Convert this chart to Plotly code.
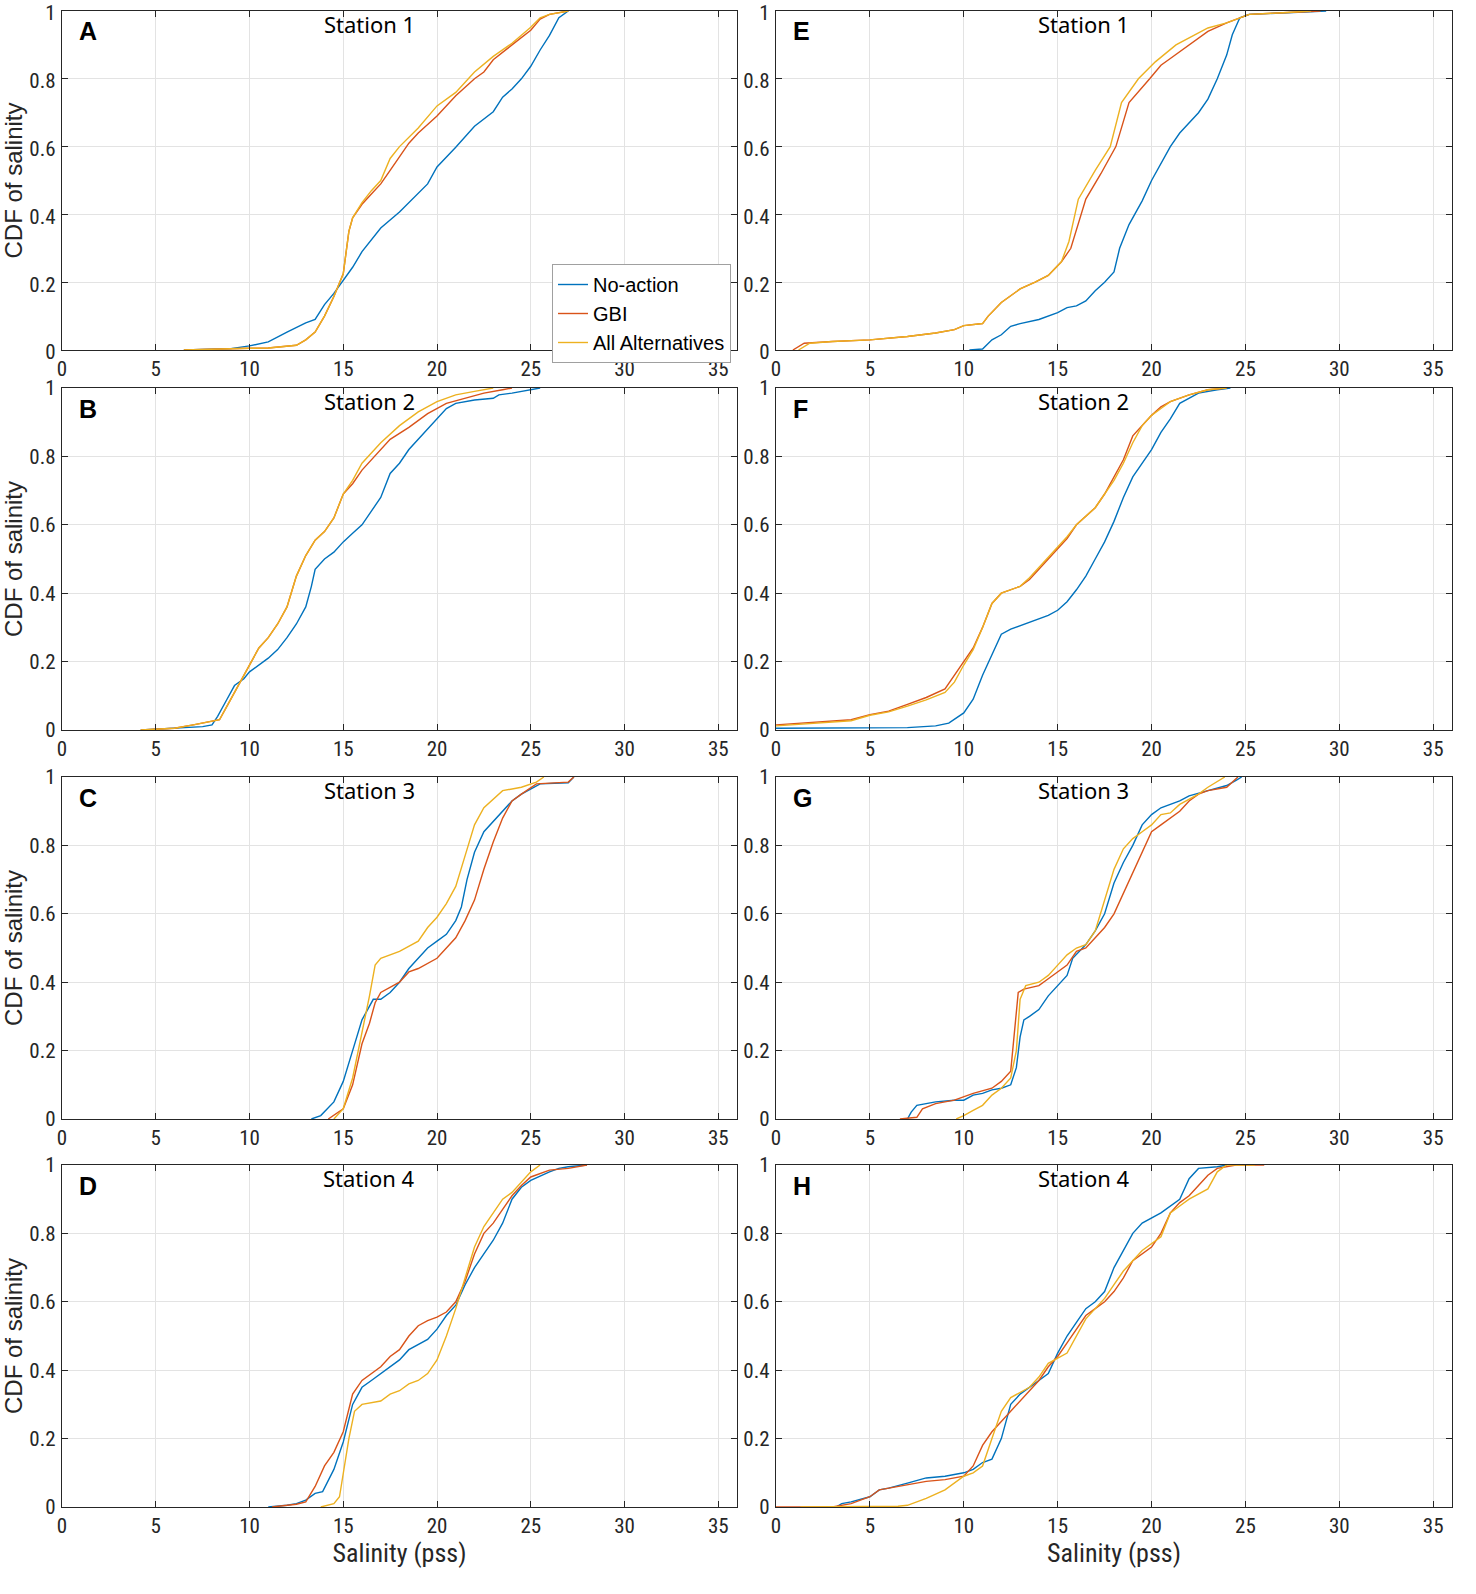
import plotly.graph_objects as go

# salinity (pss), CDF pairs, per panel and scenario
SERIES_NAMES = ["No-action", "GBI", "All Alternatives"]
COLORS = ["#0072BD", "#D95319", "#EDB120"]
PANEL_LETTERS = ["A", "B", "C", "D", "E", "F", "G", "H"]
STATION_TITLES = ["Station 1", "Station 2", "Station 3", "Station 4"] * 2
X_TICKS = [0, 5, 10, 15, 20, 25, 30, 35]
Y_TICKS = [0, 0.2, 0.4, 0.6, 0.8, 1]

A_NO_ACTION = [(6.5, 0), (9, 0.004), (10, 0.012), (11, 0.024), (12, 0.053), (13, 0.08), (13.5, 0.09),
               (14, 0.134), (14.5, 0.167), (15, 0.206), (15.5, 0.244), (16, 0.29), (17, 0.36), (18, 0.407),
               (19, 0.464), (19.5, 0.49), (20, 0.54), (21, 0.598), (22, 0.66), (23, 0.703), (23.5, 0.746),
               (24, 0.77), (24.5, 0.8), (25, 0.837), (25.5, 0.885), (26, 0.928), (26.5, 0.98), (27, 1.0)]
A_GBI = [(6.5, 0), (8, 0.003), (10, 0.005), (11, 0.006), (12, 0.01), (12.5, 0.014), (13, 0.03), (13.5, 0.053),
         (14, 0.1), (14.5, 0.158), (15, 0.225), (15.3, 0.35), (15.5, 0.39), (16, 0.43), (16.5, 0.46), (17, 0.49),
         (17.5, 0.53), (18, 0.57), (18.5, 0.61), (19, 0.64), (19.5, 0.665), (20, 0.69), (21, 0.75), (22, 0.8),
         (22.5, 0.82), (23, 0.856), (24, 0.9), (25, 0.943), (25.5, 0.976), (26, 0.99), (27, 1.0)]
A_ALL_ALT = [(6.5, 0), (8, 0.003), (10, 0.005), (11, 0.006), (12, 0.01), (12.5, 0.014), (13, 0.03), (13.5, 0.053),
             (14, 0.1), (14.5, 0.158), (15, 0.225), (15.3, 0.35), (15.5, 0.39), (16, 0.435), (16.5, 0.47),
             (17, 0.5), (17.5, 0.565), (18, 0.6), (19, 0.655), (20, 0.72), (21, 0.76), (22, 0.82), (23, 0.866),
             (24, 0.905), (25, 0.952), (25.5, 0.98), (26, 0.99), (26.5, 0.995), (27, 1.0)]

B_NO_ACTION = [(4.2, 0), (6, 0.005), (7.5, 0.01), (8, 0.015), (8.3, 0.04), (8.8, 0.09), (9.2, 0.13), (9.7, 0.15),
               (10, 0.17), (11, 0.21), (11.5, 0.235), (12, 0.27), (12.5, 0.31), (13, 0.36), (13.3, 0.42),
               (13.5, 0.47), (14, 0.5), (14.5, 0.52), (15, 0.55), (15.5, 0.575), (16, 0.6), (16.5, 0.64),
               (17, 0.68), (17.5, 0.75), (18, 0.78), (18.5, 0.82), (19, 0.85), (19.5, 0.88), (20, 0.91),
               (20.5, 0.94), (21, 0.955), (22, 0.965), (23, 0.97), (23.3, 0.98), (24, 0.985), (25, 0.995),
               (25.5, 1.0)]
B_GBI = [(4.2, 0), (6, 0.005), (7, 0.015), (8, 0.025), (8.4, 0.03), (8.8, 0.07), (9.3, 0.12), (10, 0.19),
         (10.5, 0.24), (11, 0.27), (11.5, 0.31), (12, 0.36), (12.5, 0.45), (13, 0.51), (13.5, 0.555), (14, 0.58),
         (14.5, 0.62), (15, 0.69), (15.5, 0.72), (16, 0.76), (16.5, 0.79), (17, 0.82), (17.5, 0.85),
         (18.5, 0.885), (19.5, 0.925), (20.5, 0.955), (21.5, 0.97), (22.5, 0.985), (23.5, 0.995), (24, 1.0)]
B_ALL_ALT = [(4.2, 0), (6, 0.005), (7, 0.015), (8, 0.025), (8.4, 0.03), (8.8, 0.07), (9.3, 0.12), (10, 0.19),
             (10.5, 0.24), (11, 0.27), (11.5, 0.31), (12, 0.36), (12.5, 0.45), (13, 0.51), (13.5, 0.555),
             (14, 0.58), (14.5, 0.62), (15, 0.69), (15.5, 0.73), (16, 0.78), (17, 0.84), (18, 0.89), (19, 0.93),
             (20, 0.96), (21, 0.98), (22, 0.99), (23, 1.0)]

C_NO_ACTION = [(13.3, 0), (13.8, 0.01), (14.5, 0.05), (15, 0.11), (15.5, 0.2), (16, 0.29), (16.3, 0.32),
               (16.6, 0.35), (17, 0.35), (17.5, 0.37), (18, 0.4), (18.5, 0.44), (19, 0.47), (19.5, 0.5),
               (20, 0.52), (20.5, 0.54), (21, 0.58), (21.3, 0.62), (21.6, 0.7), (22, 0.78), (22.5, 0.84),
               (23, 0.87), (23.5, 0.9), (24, 0.93), (24.5, 0.95), (25, 0.965), (25.5, 0.98), (27, 0.983),
               (27.3, 1.0)]
C_GBI = [(14.2, 0), (15, 0.03), (15.5, 0.1), (16, 0.22), (16.4, 0.28), (16.7, 0.34), (17, 0.37), (17.5, 0.385),
         (18, 0.4), (18.5, 0.43), (19, 0.44), (20, 0.47), (20.5, 0.5), (21, 0.53), (21.5, 0.58), (22, 0.64),
         (22.5, 0.73), (23, 0.81), (23.5, 0.88), (24, 0.93), (24.5, 0.95), (25, 0.97), (25.3, 0.98),
         (27, 0.985), (27.3, 1.0)]
C_ALL_ALT = [(14.5, 0), (15, 0.03), (15.5, 0.12), (16, 0.25), (16.4, 0.36), (16.7, 0.45), (17, 0.47), (18, 0.49),
             (19, 0.52), (19.5, 0.56), (20, 0.59), (20.5, 0.63), (21, 0.68), (21.5, 0.77), (22, 0.86),
             (22.5, 0.91), (23.5, 0.96), (24.5, 0.97), (25.3, 0.985), (25.7, 1.0)]

D_NO_ACTION = [(11, 0), (12, 0.005), (12.5, 0.01), (13, 0.02), (13.5, 0.04), (13.9, 0.045), (14.5, 0.11),
               (15, 0.19), (15.5, 0.3), (16, 0.35), (16.5, 0.37), (17, 0.39), (17.5, 0.41), (18, 0.43),
               (18.5, 0.46), (19, 0.475), (19.5, 0.49), (20, 0.52), (20.5, 0.56), (21, 0.59), (21.5, 0.65),
               (22, 0.7), (22.5, 0.74), (23, 0.78), (23.5, 0.83), (24, 0.9), (24.5, 0.935), (25, 0.955),
               (26, 0.98), (26.5, 0.99), (27, 0.995), (28, 1.0)]
D_GBI = [(11.2, 0), (12, 0.005), (12.5, 0.008), (13, 0.015), (13.5, 0.06), (14, 0.12), (14.5, 0.16),
         (15, 0.22), (15.5, 0.33), (16, 0.37), (16.5, 0.39), (17, 0.41), (17.5, 0.44), (18, 0.46), (18.5, 0.5),
         (19, 0.53), (19.5, 0.545), (20, 0.555), (20.5, 0.57), (21, 0.6), (21.5, 0.66), (22, 0.74), (22.5, 0.8),
         (23, 0.83), (23.5, 0.87), (24, 0.91), (24.5, 0.94), (25, 0.965), (26, 0.985), (27, 0.99), (28, 1.0)]
D_ALL_ALT = [(13.8, 0), (14.5, 0.01), (14.8, 0.03), (15, 0.1), (15.3, 0.2), (15.6, 0.28), (16, 0.3), (17, 0.31),
             (17.5, 0.33), (18, 0.34), (18.5, 0.36), (19, 0.37), (19.5, 0.39), (20, 0.43), (20.5, 0.5),
             (21, 0.58), (21.5, 0.67), (22, 0.76), (22.5, 0.82), (23, 0.86), (23.5, 0.9), (24, 0.92),
             (24.5, 0.95), (25, 0.98), (25.5, 1.0)]

E_NO_ACTION = [(10.3, 0), (11, 0.003), (11.5, 0.03), (12, 0.045), (12.5, 0.07), (13, 0.078), (14, 0.09),
               (15, 0.11), (15.5, 0.125), (16, 0.13), (16.5, 0.145), (17, 0.175), (17.5, 0.2), (18, 0.23),
               (18.3, 0.3), (18.8, 0.37), (19.5, 0.44), (20, 0.5), (21, 0.6), (21.5, 0.64), (22.5, 0.7),
               (23, 0.74), (23.5, 0.8), (24, 0.87), (24.3, 0.93), (24.7, 0.98), (25.2, 0.99), (27, 0.995),
               (29.3, 1.0)]
E_GBI = [(0.9, 0), (1.5, 0.02), (3, 0.025), (5, 0.03), (7, 0.04), (8.5, 0.05), (9.5, 0.06), (10, 0.072),
         (11, 0.078), (11.3, 0.1), (12, 0.14), (13, 0.18), (13.8, 0.2), (14.5, 0.22), (15.2, 0.26), (15.7, 0.3),
         (16.5, 0.445), (17.3, 0.52), (18.1, 0.6), (18.8, 0.73), (19.9, 0.8), (20.5, 0.84), (21, 0.86),
         (22, 0.9), (23, 0.94), (24, 0.965), (24.7, 0.98), (25.2, 0.99), (27, 0.995), (29, 1.0)]
E_ALL_ALT = [(1.2, 0), (1.8, 0.02), (3, 0.025), (5, 0.03), (7, 0.04), (8.5, 0.05), (9.5, 0.06), (10, 0.072),
             (11, 0.078), (11.3, 0.1), (12, 0.14), (13, 0.18), (13.8, 0.2), (14.5, 0.22), (15.2, 0.26),
             (15.6, 0.32), (16.1, 0.445), (17, 0.53), (17.8, 0.6), (18.4, 0.73), (19.3, 0.8), (20.2, 0.85),
             (21.3, 0.9), (23, 0.95), (24, 0.965), (24.7, 0.98), (25.2, 0.99), (27, 0.995), (28.5, 1.0)]

F_NO_ACTION = [(0, 0.005), (5, 0.006), (7, 0.007), (8.5, 0.012), (9.2, 0.02), (10, 0.05), (10.5, 0.09),
               (11, 0.16), (11.5, 0.22), (12, 0.28), (12.5, 0.295), (13, 0.305), (14, 0.325), (14.5, 0.335),
               (15, 0.35), (15.5, 0.375), (16, 0.41), (16.5, 0.45), (17, 0.5), (17.5, 0.55), (18, 0.61),
               (18.5, 0.68), (19, 0.74), (19.5, 0.78), (20, 0.82), (20.5, 0.87), (21, 0.91), (21.5, 0.955),
               (22.5, 0.985), (23.5, 0.995), (24.2, 1.0)]
F_GBI = [(0, 0.015), (2, 0.022), (3, 0.025), (4, 0.03), (5, 0.045), (6, 0.055), (7, 0.075), (8, 0.095),
         (9, 0.12), (9.5, 0.16), (10, 0.2), (10.5, 0.24), (11, 0.3), (11.5, 0.37), (12, 0.4), (12.5, 0.41),
         (13, 0.42), (13.5, 0.44), (14, 0.47), (14.5, 0.5), (15, 0.53), (15.5, 0.56), (16, 0.6), (17, 0.65),
         (17.5, 0.69), (18, 0.74), (18.5, 0.79), (19, 0.86), (19.5, 0.89), (20, 0.92), (20.5, 0.945),
         (21, 0.96), (22, 0.98), (23, 0.995), (24, 1.0)]
F_ALL_ALT = [(0, 0.012), (2, 0.019), (3, 0.022), (4, 0.027), (5, 0.043), (6, 0.053), (7, 0.07), (8, 0.088),
             (9, 0.11), (9.5, 0.14), (10, 0.19), (10.5, 0.235), (11, 0.3), (11.5, 0.37), (12, 0.4), (12.5, 0.41),
             (13, 0.42), (13.5, 0.445), (14, 0.475), (14.5, 0.505), (15, 0.535), (15.5, 0.565), (16, 0.6),
             (17, 0.65), (17.5, 0.69), (18, 0.73), (18.5, 0.78), (19, 0.84), (19.5, 0.89), (20, 0.92),
             (20.5, 0.94), (21, 0.96), (22, 0.98), (23, 0.995), (24, 1.0)]

G_NO_ACTION = [(7, 0), (7.2, 0.02), (7.5, 0.04), (8.5, 0.05), (9.5, 0.055), (10, 0.055), (10.5, 0.07),
               (11, 0.075), (11.5, 0.085), (12, 0.09), (12.5, 0.1), (12.8, 0.15), (13, 0.24), (13.2, 0.29),
               (13.5, 0.3), (14, 0.32), (14.5, 0.36), (15, 0.39), (15.5, 0.42), (15.8, 0.47), (16.5, 0.51),
               (17, 0.55), (17.5, 0.6), (18, 0.69), (18.5, 0.75), (19, 0.8), (19.5, 0.86), (20, 0.89),
               (20.5, 0.91), (21.5, 0.93), (22, 0.945), (23, 0.96), (24, 0.975), (24.5, 0.99), (24.8, 1.0)]
G_GBI = [(6.6, 0), (7.5, 0.005), (7.8, 0.03), (8.5, 0.045), (9.5, 0.055), (10, 0.065), (10.5, 0.075),
         (11.5, 0.09), (12, 0.11), (12.5, 0.14), (12.7, 0.25), (12.9, 0.37), (13.2, 0.38), (14, 0.39),
         (14.5, 0.41), (15, 0.43), (15.5, 0.45), (16, 0.49), (16.5, 0.5), (17, 0.53), (17.5, 0.56), (18, 0.6),
         (18.5, 0.66), (19, 0.72), (19.5, 0.78), (20, 0.84), (20.5, 0.86), (21, 0.88), (21.5, 0.9), (22, 0.93),
         (22.5, 0.95), (23, 0.96), (24, 0.97), (24.6, 1.0)]
G_ALL_ALT = [(9.6, 0), (10, 0.01), (10.5, 0.025), (11, 0.04), (11.5, 0.07), (12, 0.09), (12.5, 0.12),
             (12.8, 0.2), (13, 0.35), (13.3, 0.39), (14, 0.4), (14.5, 0.42), (15, 0.45), (15.5, 0.48), (16, 0.5),
             (16.5, 0.51), (17, 0.55), (17.5, 0.64), (18, 0.73), (18.5, 0.79), (19, 0.82), (19.5, 0.84),
             (20, 0.86), (20.5, 0.89), (21, 0.895), (21.5, 0.92), (22.5, 0.95), (23, 0.97), (23.9, 1.0)]

H_NO_ACTION = [(3.2, 0), (3.5, 0.01), (4, 0.015), (5, 0.03), (5.5, 0.05), (6, 0.055), (7, 0.07), (8, 0.085),
               (9, 0.09), (10, 0.1), (10.5, 0.11), (11, 0.13), (11.5, 0.14), (12, 0.2), (12.5, 0.3), (13, 0.33),
               (14, 0.37), (14.5, 0.39), (15, 0.45), (15.5, 0.5), (16, 0.54), (16.5, 0.58), (17, 0.6),
               (17.5, 0.63), (18, 0.7), (18.5, 0.75), (19, 0.8), (19.5, 0.83), (20.5, 0.86), (21.5, 0.9),
               (22, 0.96), (22.5, 0.99), (23.5, 0.995), (24, 1.0)]
H_GBI = [(0, 0), (3, 0), (4, 0.01), (5, 0.03), (5.5, 0.05), (6, 0.055), (7, 0.065), (8, 0.075), (9, 0.08),
         (10, 0.09), (10.5, 0.12), (11, 0.18), (11.5, 0.22), (12, 0.25), (12.5, 0.28), (13, 0.31), (13.5, 0.34),
         (14, 0.37), (14.5, 0.41), (15, 0.44), (15.5, 0.48), (16, 0.52), (16.5, 0.56), (17, 0.58), (17.5, 0.6),
         (18, 0.63), (18.5, 0.67), (19, 0.72), (19.5, 0.74), (20, 0.76), (20.5, 0.8), (21, 0.86), (21.5, 0.89),
         (22, 0.91), (22.5, 0.94), (23, 0.97), (23.5, 0.99), (24.5, 1.0), (26, 1.0)]
H_ALL_ALT = [(1.3, 0), (6.5, 0.002), (7, 0.005), (8, 0.025), (9, 0.05), (9.5, 0.07), (10, 0.09), (10.5, 0.1),
             (11, 0.12), (11.5, 0.2), (12, 0.28), (12.5, 0.32), (13.5, 0.35), (14, 0.38), (14.5, 0.42),
             (15.5, 0.45), (16, 0.5), (16.5, 0.55), (17, 0.58), (17.5, 0.61), (18, 0.65), (18.5, 0.69),
             (19, 0.72), (19.5, 0.75), (20.5, 0.79), (21, 0.86), (21.5, 0.88), (22, 0.9), (23, 0.93),
             (23.5, 0.98), (24, 1.0), (25.5, 1.0)]

PANELS = [
    [A_NO_ACTION, A_GBI, A_ALL_ALT],
    [B_NO_ACTION, B_GBI, B_ALL_ALT],
    [C_NO_ACTION, C_GBI, C_ALL_ALT],
    [D_NO_ACTION, D_GBI, D_ALL_ALT],
    [E_NO_ACTION, E_GBI, E_ALL_ALT],
    [F_NO_ACTION, F_GBI, F_ALL_ALT],
    [G_NO_ACTION, G_GBI, G_ALL_ALT],
    [H_NO_ACTION, H_GBI, H_ALL_ALT],
]

W, H = 1476, 1594
COL_PX = [(62, 737), (776, 1452)]
ROW_PX = [(11, 350), (388, 730), (777, 1119), (1165, 1507)]

NARROW = "Liberation Sans Narrow, Arial Narrow, Roboto Condensed, Liberation Sans"
TICK_FONT = dict(family=NARROW, size=21, color="#262626")
AX_COLOR = "#262626"

fig = go.Figure()
annotations = []

for i, panel in enumerate(PANELS):
    col, row = i // 4, i % 4
    n = i + 1
    xa = "x" if n == 1 else "x%d" % n
    ya = "y" if n == 1 else "y%d" % n
    for k, series in enumerate(panel):
        fig.add_trace(go.Scatter(
            x=[p[0] for p in series], y=[p[1] for p in series],
            mode="lines", name=SERIES_NAMES[k],
            line=dict(color=COLORS[k], width=1.4),
            showlegend=(i == 0), xaxis=xa, yaxis=ya, hoverinfo="skip"))

    x0, x1 = COL_PX[col]
    y0, y1 = ROW_PX[row]
    axis_common = dict(showline=True, linecolor=AX_COLOR, linewidth=1.3, mirror="ticks",
                       ticks="inside", ticklen=6, tickcolor=AX_COLOR, tickwidth=1.3,
                       showgrid=True, gridcolor="#e3e3e3", gridwidth=1, automargin=False,
                       ticklabeloverflow="allow", zeroline=False, tickfont=TICK_FONT)
    fig.layout["xaxis" if n == 1 else "xaxis%d" % n] = dict(
        axis_common, domain=[x0 / W, x1 / W], range=[0, 36], tickvals=X_TICKS,
        anchor=ya, ticklabelstandoff=0,
        title=dict(text="Salinity (pss)", standoff=0,
                   font=dict(family=NARROW, size=26, color="#262626")) if row == 3 else None)
    fig.layout["yaxis" if n == 1 else "yaxis%d" % n] = dict(
        axis_common, domain=[1 - y1 / H, 1 - y0 / H], range=[0, 1], tickvals=Y_TICKS,
        ticktext=["0", "0.2", "0.4", "0.6", "0.8", "1"], anchor=xa, ticklabelstandoff=1,
        ticklabelshift=2 if row == 0 else 0,
        title=dict(text="CDF of salinity", standoff=2,
                   font=dict(family="Liberation Sans, Arial", size=24, color="#262626")) if col == 0 else None)

    annotations.append(dict(text="<b>%s</b>" % PANEL_LETTERS[i], xref="%s domain" % xa, yref="%s domain" % ya,
                            x=0.022, y=0.94, xanchor="left", yanchor="middle", showarrow=False,
                            font=dict(family="Liberation Sans, Arial", size=25, color="#000000")))
    annotations.append(dict(text=STATION_TITLES[i], xref="%s domain" % xa, yref="%s domain" % ya,
                            x=0.455, y=0.962, xanchor="center", yanchor="middle", showarrow=False,
                            font=dict(family="Noto Sans, Open Sans", size=22, color="#000000")))

fig.update_layout(
    width=W, height=H,
    margin=dict(l=0, r=0, t=0, b=0, autoexpand=False),
    paper_bgcolor="white", plot_bgcolor="white",
    annotations=annotations,
    hovermode=False,
    legend=dict(x=731 / W, y=1 - 264 / H, xanchor="right", yanchor="top",
                bgcolor="white", bordercolor="#a0a0a0", borderwidth=1,
                font=dict(family="Liberation Sans, Arial", size=20, color="#000000"),
                itemwidth=30, tracegroupgap=0),
)

# page body margin would push the 1476px figure past the window edge
fig.write_html("out.html", config={"displayModeBar": False},
               post_script="document.body.style.margin = '0';")
